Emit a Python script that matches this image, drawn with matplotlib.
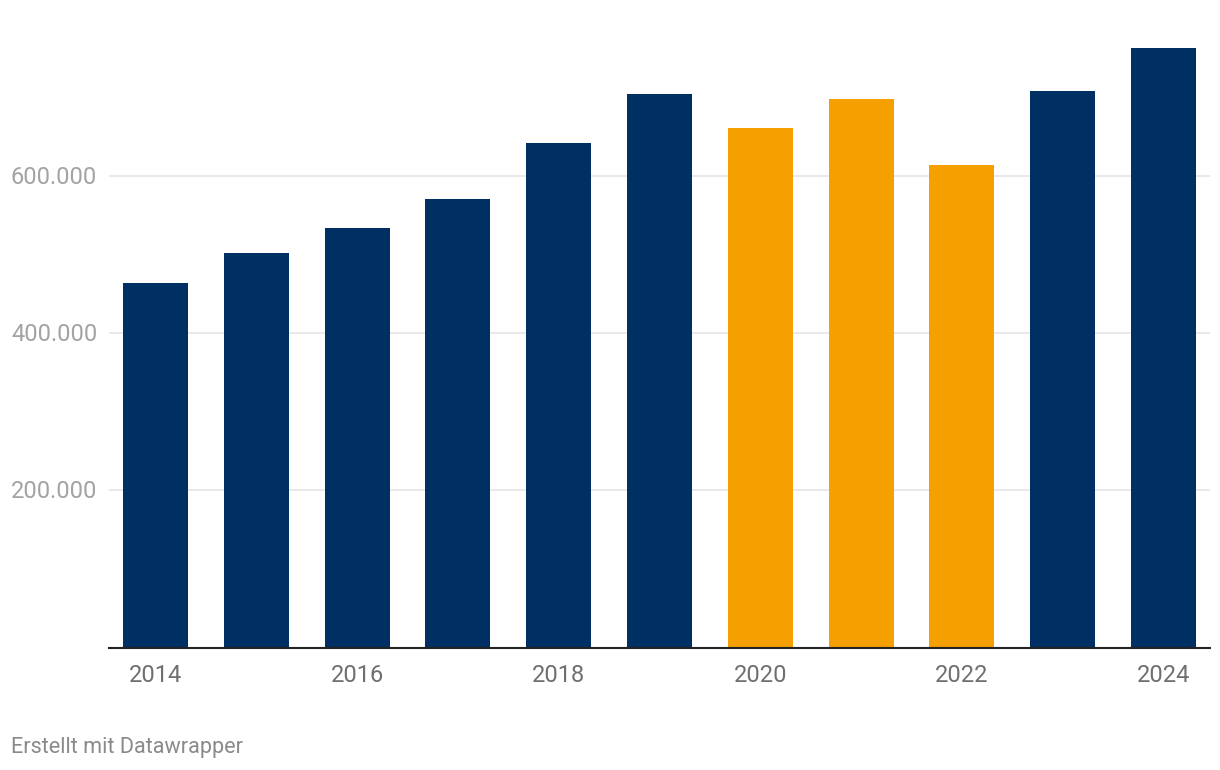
import matplotlib
matplotlib.use("Agg")
import matplotlib.pyplot as plt
from matplotlib.transforms import blended_transform_factory, offset_copy

years = [2014, 2015, 2016, 2017, 2018, 2019, 2020, 2021, 2022, 2023, 2024]
values = [464000, 502000, 534000, 571000, 642000, 704000, 661000, 698000, 614000, 708000, 763000]
highlight = [2020, 2021, 2022]
y_ticks = [200000, 400000, 600000]
y_tick_labels = ["200.000", "400.000", "600.000"]
x_tick_years = [2014, 2016, 2018, 2020, 2022, 2024]

NAVY = "#003063"
ORANGE = "#f59f00"

plt.rcParams['font.family'] = ['Roboto', 'DejaVu Sans']

fig = plt.figure(figsize=(12.2, 7.7), dpi=100)
ax = fig.add_axes([109/1220, 1 - 647.7/770, (1210-109)/1220, (647.7-30)/770])

colors = [ORANGE if y in highlight else NAVY for y in years]
ax.bar(years, values, width=0.645, color=colors, zorder=2)

ax.set_xlim(2013.54, 2024.46)
ax.set_ylim(0, 785700)

for t in y_ticks:
    ax.axhline(t, color="#e3e3e3", lw=1.1, zorder=1)
ax.set_yticks([])

ax.set_xticks(x_tick_years)
ax.set_xticklabels([str(y) for y in x_tick_years], fontsize=17, color="#6f6f6f")
ax.tick_params(axis='x', length=0, pad=12)

for s in ["top", "right", "left"]:
    ax.spines[s].set_visible(False)
ax.spines["bottom"].set_color("#222222")
ax.spines["bottom"].set_linewidth(1.5)
ax.spines["bottom"].set_zorder(3)

trans = offset_copy(blended_transform_factory(fig.transFigure, ax.transData),
                    fig=fig, x=0, y=-1.5, units='dots')
for t, lab in zip(y_ticks, y_tick_labels):
    ax.text(11/1220, t, lab, transform=trans, fontsize=17, color="#a3a3a3",
            ha="left", va="center", clip_on=False)

fig.text(11/1220, 1 - 748/770, "Erstellt mit Datawrapper", fontsize=15.6,
         color="#8a8a8a", ha="left", va="center")

fig.savefig("out.png", dpi=100)
